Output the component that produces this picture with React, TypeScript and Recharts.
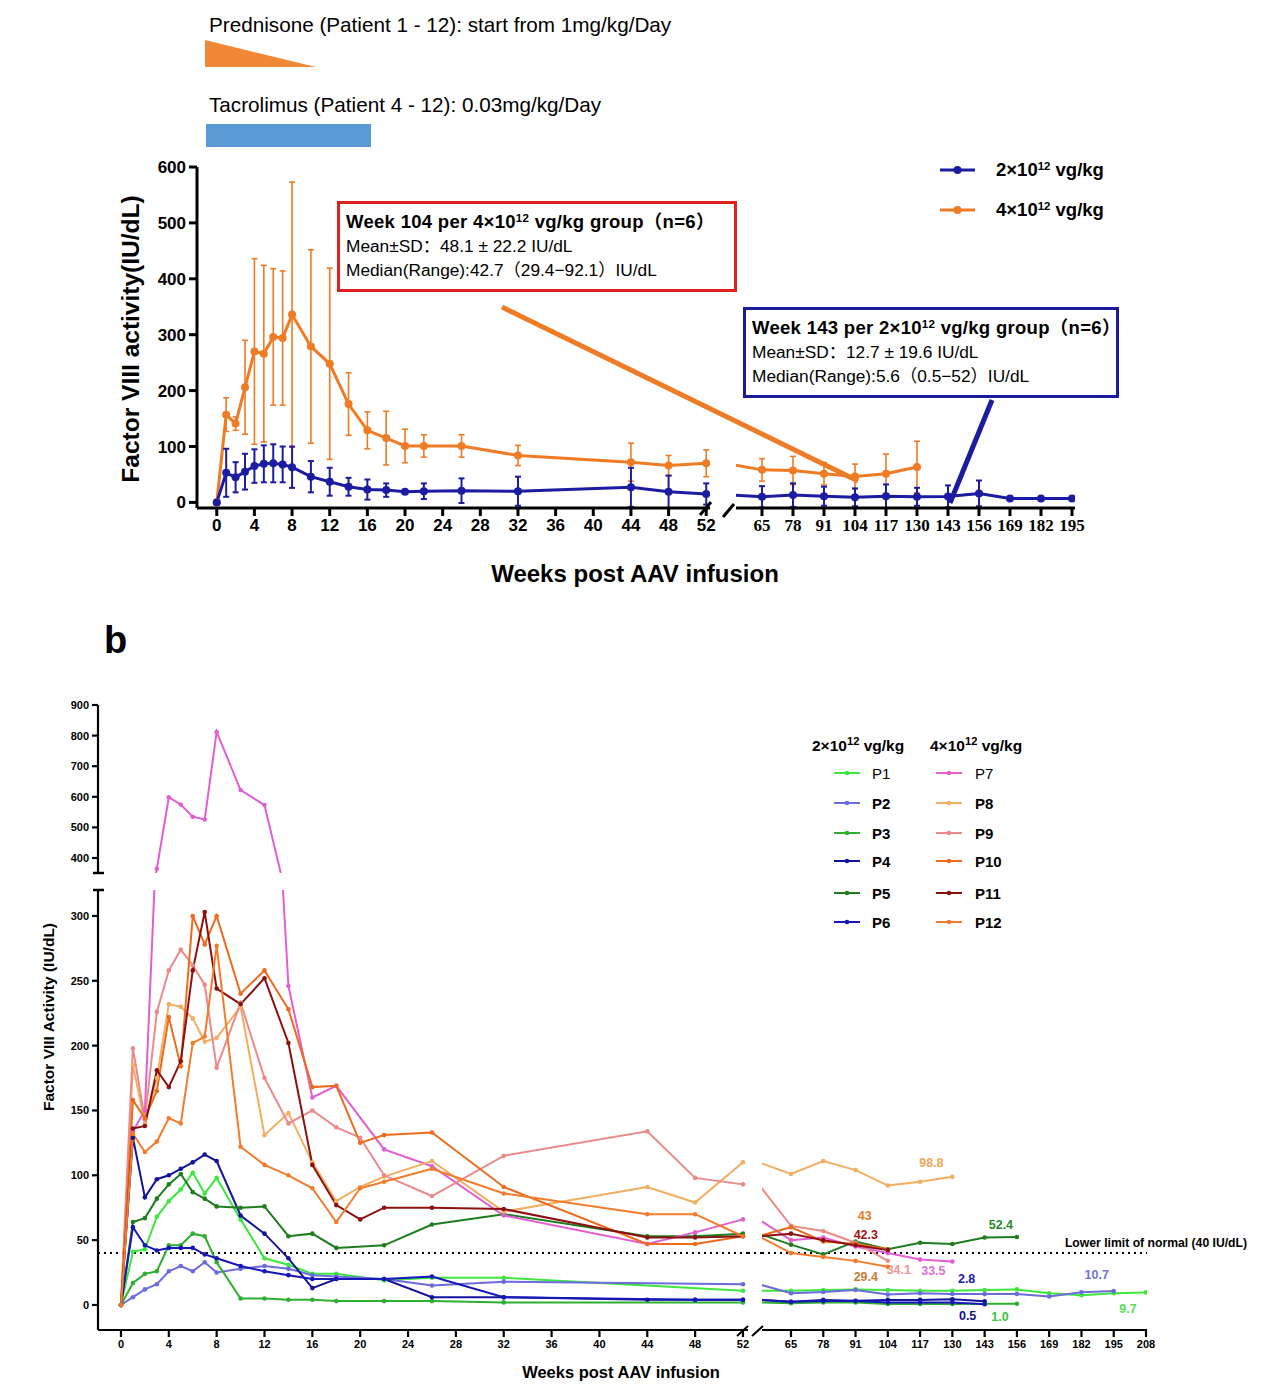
import React from 'react';
import { LineChart, Line, XAxis, YAxis, ErrorBar, ReferenceLine } from 'recharts';

const SANS = '"Liberation Sans", Arial, "Noto Sans CJK SC", sans-serif';
const SERIF = '"Liberation Serif", "Times New Roman", serif';
const BLUE = '#1c1ca2';
const ORANGE = '#ef7b25';

// ---- panel a: group mean ± SD
const earlyWeeks = [0, 1, 2, 3, 4, 5, 6, 7, 8, 10, 12, 14, 16, 18, 20, 22, 26, 32, 44, 48, 52];
const lowDoseMean = [0, 53, 45, 55, 65, 69, 70, 68, 63, 46, 37, 28, 23, 22, 19, 20, 21, 20, 27, 19, 15];
const lowDoseSd = [0, 43, 27, 32, 30, 33, 34, 32, 37, 28, 25, 16, 18, 12, 3, 14, 22, 26, 35, 29, 19];
const highDoseMean = [0, 157, 141, 206, 270, 266, 296, 294, 336, 279, 248, 176, 129, 115, 101, 101, 101, 84, 72, 66, 70];
const highDoseSd = [0, 30, 12, 84, 166, 158, 122, 120, 237, 173, 171, 56, 33, 48, 30, 20, 20, 18, 34, 18, 24];

const lateWeeksA = [52, 65, 78, 91, 104, 117, 130, 143, 156, 169, 182, 195];
const lowDoseMeanLate = [15, 12, 15, 13, 11, 13, 12, 12.7, 18, 9, 9, 9];
const lowDoseSdLate = [null, 19, 21, 17, 16, 21, 16, 19.6, 23, null, null, null];
const highDoseMeanLate = [70, 60, 59, 53, 48.1, 53, 65, null, null, null, null, null];
const highDoseSdLate = [null, 20, 25, 20, 22.2, 35, 46, null, null, null, null, null];

const earlyTicksA = [0, 4, 8, 12, 16, 20, 24, 28, 32, 36, 40, 44, 48, 52];
const lateTicksA = [65, 78, 91, 104, 117, 130, 143, 156, 169, 182, 195];
const yTicksA = [0, 100, 200, 300, 400, 500, 600];

// ---- panel b: individual patients
const earlyWeeksB = earlyWeeks;
const lateWeeksB = [52, 65, 78, 91, 104, 117, 130, 143, 156, 169, 182, 195, 208];

const p1Early = [0, 41, 43, 68, 80, 89, 102, 86, 98, 66, 36, 31, 24, 24, null, 19, 21, 21, null, null, 11];
const p2Early = [0, 6, 12, 16, 26, 30, 26, 33, 25, 28, 30, 28, 23, 22, null, 20, 15, 18, null, null, 16];
const p3Early = [0, 17, 24, 26, 46, 46, 55, 53, 33, 5, 5, 4, 4, 3, null, 3, 3, 2, null, null, 2];
const p4Early = [0, 129, 83, 97, 100, 105, 110, 116, 111, 69, 55, 36, 13, 20, null, 20, 6, 6, 4, 4, 4];
const p5Early = [0, 64, 67, 82, 93, 101, 87, 82, 76, 75, 76, 53, 55, 44, null, 46, 62, 70, 53, 53, 55];
const p6Early = [0, 60, 46, 42, 44, 44, 44, 39, 36, 30, 26, 23, 20, 20, null, 20, 22, 6, null, 4, 4];
const p7Early = [0, 134, 150, 365, 598, 575, 535, 526, 812, 622, 573, 246, 160, 169, null, 120, 107, 69, 47, 56, 66];
const p8Early = [0, 185, 140, 175, 232, 230, 221, 203, 206, 230, 131, 148, 110, 80, 91, 99, 111, 72, 91, 79, 110];
const p9Early = [0, 198, 143, 226, 258, 274, 262, 247, 183, 233, 175, 140, 150, 137, 129, 100, 84, 115, 134, 98, 93];
const p10Early = [0, 158, 144, 165, 222, 184, 300, 278, 300, 240, 258, 228, 168, 169, 125, 131, 133, 91, 47, 47, 53];
const p11Early = [0, 136, 138, 181, 168, 188, 258, 303, 244, 232, 252, 202, 108, 77, 66, 75, 75, 74, 52, 52, 53];
const p12Early = [0, 132, 118, 126, 144, 140, 202, 207, 277, 122, 108, 100, 90, 64, 90, 95, 105, 86, 70, 70, 53];

const p1Late = [11, 11, 11.6, 12, 11.6, 11, 11, 11.5, 12, 9, 7.5, 9, 9.7];
const p2Late = [16, 9, 10, 11.6, 8, 9, 8.5, 8.4, 8.5, 6.5, 9.8, 10.7, null];
const p3Late = [2, 1.3, 2, 2, 0.8, 0.8, 0.8, 1.0, 1.0, null, null, null, null];
const p4Late = [4, 2.5, 3.9, 3.3, 3.9, 3.9, 4.4, 2.8, null, null, null, null, null];
const p5Late = [55, 46.5, 39, 49, 43, 48, 47, 52, 52.4, null, null, null, null];
const p6Late = [4, 2.5, 3, 3, 2, 2, 2, 0.5, null, null, null, null, null];
const p7Late = [66, 50, 52, 45, 40, 35, 33.5, null, null, null, null, null, null];
const p8Late = [110, 101, 111, 104, 92.1, 95, 98.8, null, null, null, null, null, null];
const p9Late = [93, 61, 57, 48, 34.1, null, null, null, null, null, null, null, null];
const p10Late = [53, 60, 49, 47, 43, null, null, null, null, null, null, null, null];
const p11Late = [53, 55, 50, 46, 42.3, null, null, null, null, null, null, null, null];
const p12Late = [53, 40, 37, 34, 29.4, null, null, null, null, null, null, null, null];

const earlyTicksB = earlyTicksA;
const lateTicksB = [65, 78, 91, 104, 117, 130, 143, 156, 169, 182, 195, 208];
const lowTicksB = [0, 50, 100, 150, 200, 250, 300];
const highTicksB = [400, 500, 600, 700, 800, 900];

const patients = [
  { key: 'P1', color: '#3ee63e', bold: false, early: p1Early, late: p1Late },
  { key: 'P2', color: '#6b6bdb', bold: true, early: p2Early, late: p2Late },
  { key: 'P3', color: '#2fae2f', bold: true, early: p3Early, late: p3Late },
  { key: 'P4', color: '#14149a', bold: true, early: p4Early, late: p4Late },
  { key: 'P5', color: '#1f7d1f', bold: true, early: p5Early, late: p5Late },
  { key: 'P6', color: '#1717b8', bold: true, early: p6Early, late: p6Late },
  { key: 'P7', color: '#e25fd2', bold: false, early: p7Early, late: p7Late },
  { key: 'P8', color: '#f2ae62', bold: true, early: p8Early, late: p8Late },
  { key: 'P9', color: '#ec8a8a', bold: true, early: p9Early, late: p9Late },
  { key: 'P10', color: '#ee6a1c', bold: true, early: p10Early, late: p10Late },
  { key: 'P11', color: '#8c1010', bold: true, early: p11Early, late: p11Late },
  { key: 'P12', color: '#f27c2c', bold: true, early: p12Early, late: p12Late },
];

// text shown at the end of each patient's follow-up
const endLabels: Record<string, { text: string; color: string; dx: number; dy: number }> = {
  P8: { text: '98.8', color: '#f0a55a', dx: -21, dy: -14 },
  P10: { text: '43', color: '#e47a2a', dx: -23, dy: -33 },
  P11: { text: '42.3', color: '#a01414', dx: -22, dy: -15 },
  P12: { text: '29.4', color: '#c97a35', dx: -22, dy: 10 },
  P9: { text: '34.1', color: '#f09595', dx: 11, dy: 9 },
  P7: { text: '33.5', color: '#e070d5', dx: -19, dy: 9 },
  P5: { text: '52.4', color: '#2a8a2a', dx: -16, dy: -12 },
  P4: { text: '2.8', color: '#2020aa', dx: -18, dy: -22 },
  P6: { text: '0.5', color: '#10108a', dx: -17, dy: 12 },
  P3: { text: '1.0', color: '#3cc43c', dx: -17, dy: 13 },
  P2: { text: '10.7', color: '#7272d6', dx: -17, dy: -16 },
  P1: { text: '9.7', color: '#55e055', dx: -18, dy: 17 },
};

const topEarly = earlyWeeks.map((week, i) => ({
  week,
  low: lowDoseMean[i],
  lowSd: lowDoseSd[i],
  high: highDoseMean[i],
  highSd: highDoseSd[i],
}));
const topLate = lateWeeksA.map((week, i) => ({
  week,
  low: lowDoseMeanLate[i],
  lowSd: lowDoseSdLate[i],
  high: highDoseMeanLate[i],
  highSd: highDoseSdLate[i],
}));
const bottomEarly = earlyWeeksB.map((week, i) => {
  const row: any = { week };
  patients.forEach((p) => (row[p.key] = p.early[i]));
  return row;
});
const bottomLate = lateWeeksB.map((week, i) => {
  const row: any = { week };
  patients.forEach((p) => (row[p.key] = p.late[i]));
  return row;
});

const lastIndex = (arr: (number | null)[]) => {
  let k = -1;
  arr.forEach((v, i) => {
    if (v != null) k = i;
  });
  return k;
};

const tickA = { fill: '#000', fontSize: 17, fontWeight: 700, fontFamily: SANS };
const tickALate = { fill: '#000', fontSize: 17, fontWeight: 700, fontFamily: SERIF };
const tickB = { fill: '#000', fontSize: 11, fontWeight: 700, fontFamily: SANS };
const axisA = { stroke: '#000', strokeWidth: 3 };
const axisB = { stroke: '#000', strokeWidth: 2.2 };

function topLines() {
  return [
    <Line
      key="high"
      dataKey="high"
      stroke={ORANGE}
      strokeWidth={3}
      dot={{ r: 4, fill: ORANGE, stroke: ORANGE, strokeWidth: 0 }}
      isAnimationActive={false}
    >
      <ErrorBar dataKey="highSd" width={3} stroke={ORANGE} strokeWidth={1.6} direction="y" />
    </Line>,
    <Line
      key="low"
      dataKey="low"
      stroke={BLUE}
      strokeWidth={3}
      dot={{ r: 4, fill: BLUE, stroke: BLUE, strokeWidth: 0 }}
      isAnimationActive={false}
    >
      <ErrorBar dataKey="lowSd" width={3} stroke={BLUE} strokeWidth={2} direction="y" />
    </Line>,
  ];
}

function patientLines(withLabels: boolean) {
  return patients.map((p) => {
    const last = lastIndex(p.late);
    const lbl = endLabels[p.key];
    const dot = (props: any) => {
      const { cx, cy, index, value } = props;
      const k = `${p.key}-${index}`;
      if (cx == null || cy == null || value == null) return <g key={k} />;
      return (
        <g key={k}>
          <circle cx={cx} cy={cy} r={2.3} fill={p.color} />
          {withLabels && lbl && index === last ? (
            <text
              x={cx + lbl.dx}
              y={cy + lbl.dy}
              textAnchor="middle"
              dominantBaseline="central"
              fontFamily={SANS}
              fontWeight={700}
              fontSize={12.5}
              fill={lbl.color}
            >
              {lbl.text}
            </text>
          ) : null}
        </g>
      );
    };
    return (
      <Line
        key={p.key}
        dataKey={p.key}
        stroke={p.color}
        strokeWidth={2}
        dot={dot}
        connectNulls
        isAnimationActive={false}
      />
    );
  });
}

function Sup12({ text, size = 0.62 }: { text: string; size?: number }) {
  return (
    <span>
      {text}
      <sup style={{ fontSize: `${size}em`, verticalAlign: '0.55em', lineHeight: 0 }}>12</sup>
    </span>
  );
}

const topLegend = [
  { base: '2×10', color: BLUE },
  { base: '4×10', color: ORANGE },
];

export default function App() {
  const abs = (left: number, top: number): React.CSSProperties => ({ position: 'absolute', left, top });
  const boxTitle: React.CSSProperties = { fontSize: 18.5, fontWeight: 700, lineHeight: '24px', letterSpacing: 0.3, whiteSpace: 'nowrap' };
  const boxLine: React.CSSProperties = { fontSize: 17.3, lineHeight: '24px', whiteSpace: 'nowrap' };
  return (
    <div
      style={{
        position: 'relative',
        width: 1280,
        height: 1392,
        background: '#fff',
        overflow: 'hidden',
        fontFamily: SANS,
        color: '#000',
      }}
    >
      <style>{'body{margin:0}'}</style>

      {/* treatment headers */}
      <div style={{ ...abs(209, 13), fontSize: 20.7, lineHeight: '24px', whiteSpace: 'nowrap' }}>
        Prednisone (Patient 1 - 12): start from 1mg/kg/Day
      </div>
      <div style={{ ...abs(209, 93), fontSize: 20.7, lineHeight: '24px', whiteSpace: 'nowrap' }}>
        Tacrolimus (Patient 4 - 12): 0.03mg/kg/Day
      </div>

      {/* panel a */}
      <div style={abs(100, 150)}>
        <LineChart width={630} height={420} data={topEarly} margin={{ top: 17, right: 20, bottom: 22, left: 0 }}>
          <XAxis
            dataKey="week"
            type="number"
            domain={[-2.1, 52.4]}
            allowDataOverflow
            ticks={earlyTicksA}
            interval={0}
            height={40}
            axisLine={axisA}
            tickLine={axisA}
            tickSize={8}
            tickMargin={3}
            tick={tickA}
          />
          <YAxis
            type="number"
            domain={[0, 600]}
            ticks={yTicksA}
            interval={0}
            width={97}
            axisLine={axisA}
            tickLine={axisA}
            tickSize={8}
            tickMargin={3}
            tick={tickA}
          />
          {topLines()}
        </LineChart>
      </div>
      <div style={abs(736, 150)}>
        <LineChart width={369} height={420} data={topLate} margin={{ top: 17, right: 30, bottom: 22, left: 0 }}>
          <XAxis
            dataKey="week"
            type="number"
            domain={[54.1, 196.26]}
            allowDataOverflow
            ticks={lateTicksA}
            interval={0}
            height={40}
            axisLine={axisA}
            tickLine={axisA}
            tickSize={8}
            tickMargin={3}
            tick={tickALate}
          />
          <YAxis hide type="number" domain={[0, 600]} />
          {topLines()}
        </LineChart>
      </div>

      {/* panel b */}
      <div style={abs(40, 690)}>
        <LineChart width={708} height={183} data={bottomEarly} margin={{ top: 15, right: 0, bottom: 0, left: 0 }}>
          <XAxis hide dataKey="week" type="number" domain={[-1.92, 52.42]} allowDataOverflow />
          <YAxis
            type="number"
            domain={[351, 900]}
            allowDataOverflow
            ticks={highTicksB}
            interval={0}
            width={58}
            axisLine={axisB}
            tickLine={axisB}
            tickSize={6}
            tickMargin={3}
            tick={tickB}
          />
          {patientLines(false)}
        </LineChart>
      </div>
      <div style={abs(40, 880)}>
        <LineChart width={718} height={480} data={bottomEarly} margin={{ top: 10, right: 10, bottom: 0, left: 0 }}>
          <XAxis
            dataKey="week"
            type="number"
            domain={[-1.92, 52.42]}
            allowDataOverflow
            ticks={earlyTicksB}
            interval={0}
            height={30}
            axisLine={axisB}
            tickLine={axisB}
            tickSize={7}
            tickMargin={3}
            tick={tickB}
          />
          <YAxis
            type="number"
            domain={[-19.3, 320]}
            allowDataOverflow
            ticks={lowTicksB}
            interval={0}
            width={58}
            axisLine={axisB}
            tickLine={axisB}
            tickSize={6}
            tickMargin={3}
            tick={tickB}
          />
          <ReferenceLine y={40} stroke="#000" strokeWidth={2} strokeDasharray="2 4" />
          {patientLines(false)}
        </LineChart>
      </div>
      <div style={abs(762, 880)}>
        <LineChart width={405} height={480} data={bottomLate} margin={{ top: 10, right: 20, bottom: 0, left: 0 }}>
          <XAxis
            dataKey="week"
            type="number"
            domain={[53.32, 208.4]}
            allowDataOverflow
            ticks={lateTicksB}
            interval={0}
            height={30}
            axisLine={axisB}
            tickLine={axisB}
            tickSize={7}
            tickMargin={3}
            tick={tickB}
          />
          <YAxis hide type="number" domain={[-19.3, 320]} allowDataOverflow />
          <ReferenceLine y={40} stroke="#000" strokeWidth={2} strokeDasharray="2 4" />
          {patientLines(true)}
        </LineChart>
      </div>

      {/* decorations: dosing bars, arrows, axis breaks, axis titles */}
      <svg width={1280} height={1392} style={{ position: 'absolute', left: 0, top: 0, pointerEvents: 'none' }}>
        <polygon points="205,40 205,67 316,67" fill="#f08838" />
        <rect x={206} y={124} width={165} height={23} fill="#5b9bd5" />
        <line x1={502} y1={307} x2={858} y2={481} stroke={ORANGE} strokeWidth={5} />
        <line x1={992} y1={400} x2={950} y2={503} stroke={BLUE} strokeWidth={5} />
        <line x1={700} y1={515} x2={711} y2={502} stroke="#000" strokeWidth={3} />
        <line x1={723} y1={517} x2={734} y2={504} stroke="#000" strokeWidth={3} />
        <line x1={737} y1={1336} x2={748} y2={1326} stroke="#000" strokeWidth={2} />
        <line x1={752} y1={1336} x2={763} y2={1326} stroke="#000" strokeWidth={2} />
        <line x1={748} y1={1253} x2={762} y2={1253} stroke="#000" strokeWidth={2} strokeDasharray="2 4" />
        <line x1={93} y1={873} x2={104} y2={873} stroke="#000" strokeWidth={2.5} />
        <line x1={93} y1={890} x2={104} y2={890} stroke="#000" strokeWidth={2.5} />
        <text
          x={130}
          y={339}
          transform="rotate(-90 130 339)"
          textAnchor="middle"
          dominantBaseline="central"
          fontFamily={SANS}
          fontWeight={700}
          fontSize={24.5}
        >
          Factor VIII activity(IU/dL)
        </text>
        <text x={635} y={573} textAnchor="middle" dominantBaseline="central" fontFamily={SANS} fontWeight={700} fontSize={24}>
          Weeks post AAV infusion
        </text>
        <text x={104} y={653} fontFamily={SANS} fontWeight={700} fontSize={38}>
          b
        </text>
        <text
          x={48}
          y={1017}
          transform="rotate(-90 48 1017)"
          textAnchor="middle"
          dominantBaseline="central"
          fontFamily={SANS}
          fontWeight={700}
          fontSize={15.5}
        >
          Factor VIII Activity (IU/dL)
        </text>
        <text x={621} y={1372} textAnchor="middle" dominantBaseline="central" fontFamily={SANS} fontWeight={700} fontSize={16.5}>
          Weeks post AAV infusion
        </text>
        <text x={1156} y={1243} textAnchor="middle" dominantBaseline="central" fontFamily={SANS} fontWeight={700} fontSize={12.2}>
          Lower limit of normal (40 IU/dL)
        </text>
      </svg>

      {/* panel a legend */}
      {topLegend.map((l, i) => (
        <div key={l.base} style={{ ...abs(938, 158 + i * 40), display: 'flex', alignItems: 'center', height: 24 }}>
          <svg width={40} height={24}>
            <line x1={2} y1={12} x2={37} y2={12} stroke={l.color} strokeWidth={3} />
            <circle cx={19.5} cy={12} r={4} fill={l.color} />
          </svg>
          <span style={{ marginLeft: 18, fontSize: 18.5, fontWeight: 700, whiteSpace: 'nowrap' }}>
            <Sup12 text={l.base} /> vg/kg
          </span>
        </div>
      ))}

      {/* annotation boxes */}
      <div
        style={{
          ...abs(337, 201),
          width: 400,
          height: 91,
          border: '3px solid #e0201c',
          padding: '6px 0 0 6px',
          boxSizing: 'border-box',
          background: '#fff',
        }}
      >
        <div style={boxTitle}>
          Week 104 per <Sup12 text="4×10" /> vg/kg group（n=6）
        </div>
        <div style={boxLine}>Mean±SD：48.1 ± 22.2 IU/dL</div>
        <div style={boxLine}>Median(Range):42.7（29.4−92.1）IU/dL</div>
      </div>
      <div
        style={{
          ...abs(743, 307),
          width: 376,
          height: 91,
          border: '3px solid #1a1a9c',
          padding: '6px 0 0 6px',
          boxSizing: 'border-box',
          background: '#fff',
        }}
      >
        <div style={boxTitle}>
          Week 143 per <Sup12 text="2×10" /> vg/kg group（n=6）
        </div>
        <div style={boxLine}>Mean±SD：12.7 ± 19.6 IU/dL</div>
        <div style={boxLine}>Median(Range):5.6（0.5−52）IU/dL</div>
      </div>

      {/* panel b legend */}
      <div style={{ ...abs(812, 737), fontSize: 15.5, fontWeight: 700, whiteSpace: 'nowrap' }}>
        <Sup12 text="2×10" size={0.72} /> vg/kg
      </div>
      <div style={{ ...abs(930, 737), fontSize: 15.5, fontWeight: 700, whiteSpace: 'nowrap' }}>
        <Sup12 text="4×10" size={0.72} /> vg/kg
      </div>
      {patients.map((p, i) => {
        const col = i < 6 ? 0 : 1;
        const row = i % 6;
        const rowY = [773, 803, 833, 861, 893, 922][row];
        return (
          <div
            key={p.key}
            style={{ ...abs(col ? 934 : 832, rowY - 10), display: 'flex', alignItems: 'center', height: 20 }}
          >
            <svg width={30} height={20}>
              <line x1={2} y1={10} x2={28} y2={10} stroke={p.color} strokeWidth={2} />
              <circle cx={15} cy={10} r={2.3} fill={p.color} />
            </svg>
            <span style={{ marginLeft: col ? 11 : 10, fontSize: 15, fontWeight: p.bold ? 700 : 400 }}>{p.key}</span>
          </div>
        );
      })}
    </div>
  );
}
